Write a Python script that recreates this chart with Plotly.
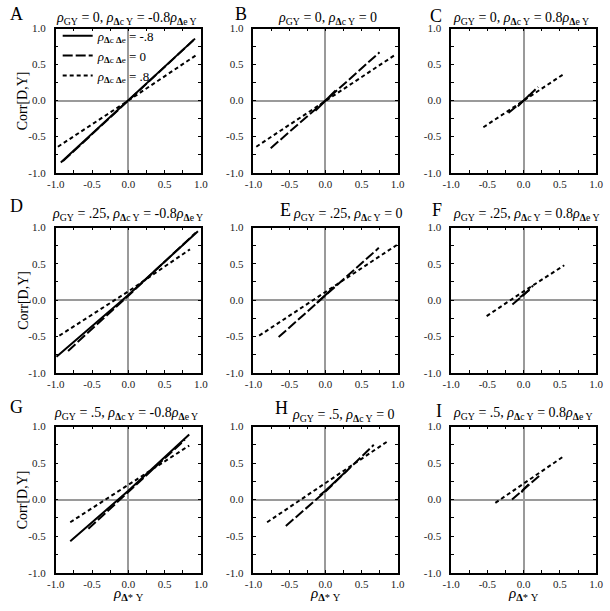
import plotly.graph_objects as go

W, H = 610, 611

# ---------------- data ----------------
letters = ["A", "B", "C", "D", "E", "F", "G", "H", "I"]
rho_gy = ["0", "0", "0", ".25", ".25", ".25", ".5", ".5", ".5"]
rho_rel = ["-0.8", "0", "0.8", "-0.8", "0", "0.8", "-0.8", "0", "0.8"]
series_rho = ["-.8", "0", ".8"]  # rho_{Δc Δe}

tick_vals = [-1.0, -0.5, 0.0, 0.5, 1.0]
tick_text = ["-1.0", "-0.5", "0.0", "0.5", "1.0"]
minor_vals = [-0.75, -0.25, 0.25, 0.75]

# x / y per panel: [solid (-.8), long dash (0), short dash (.8)]
A_x = [[-0.93, 0.0, 0.92], [-0.90, 0.0, 0.90], [-0.97, 0.0, 0.95]]
A_y = [[-0.86, 0.0, 0.86], [-0.84, 0.0, 0.84], [-0.64, 0.0, 0.64]]
B_x = [[-0.14, 0.0, 0.14], [-0.76, 0.0, 0.75], [-0.96, 0.0, 0.96]]
B_y = [[-0.14, 0.0, 0.14], [-0.66, 0.0, 0.67], [-0.64, 0.0, 0.63]]
C_x = [[-0.08, 0.0, 0.08], [-0.21, 0.0, 0.20], [-0.555, 0.0, 0.555]]
C_y = [[-0.08, 0.0, 0.08], [-0.17, 0.0, 0.19], [-0.37, 0.0, 0.37]]
D_x = [[-0.99, 0.0, 0.96], [-0.83, 0.0, 0.93], [-0.95, 0.0, 0.85]]
D_y = [[-0.78, 0.07, 0.95], [-0.70, 0.06, 0.93], [-0.49, 0.12, 0.70]]
E_x = [[-0.12, 0.0, 0.12], [-0.65, 0.0, 0.74], [-0.92, 0.0, 0.99]]
E_y = [[-0.04, 0.07, 0.18], [-0.51, 0.07, 0.72], [-0.49, 0.11, 0.76]]
F_x = [[-0.05, 0.0, 0.08], [-0.155, 0.0, 0.13], [-0.51, 0.0, 0.56]]
F_y = [[0.04, 0.08, 0.14], [-0.06, 0.07, 0.20], [-0.22, 0.12, 0.48]]
G_x = [[-0.80, 0.0, 0.84], [-0.55, 0.0, 0.78], [-0.80, 0.0, 0.84]]
G_y = [[-0.57, 0.12, 0.89], [-0.40, 0.10, 0.82], [-0.31, 0.20, 0.74]]
H_x = [[-0.08, 0.0, 0.30], [-0.55, 0.0, 0.67], [-0.81, 0.0, 0.85]]
H_y = [[0.06, 0.12, 0.40], [-0.36, 0.11, 0.75], [-0.31, 0.23, 0.79]]
I_x = [[-0.03, 0.0, 0.07], [-0.16, 0.0, 0.22], [-0.39, 0.0, 0.555]]
I_y = [[0.10, 0.14, 0.21], [0.0, 0.14, 0.33], [-0.045, 0.22, 0.595]]

panel_x = [A_x, B_x, C_x, D_x, E_x, F_x, G_x, H_x, I_x]
panel_y = [A_y, B_y, C_y, D_y, E_y, F_y, G_y, H_y, I_y]

# ---------------- layout helpers ----------------
col_px = [(48, 197), (251, 399), (454, 603)]
row_px = [(23, 170), (226, 374), (429, 578)]
title_left = [47, 275, 455, 43, 291, 455, 45, 290, 455]
title_cy = [13, 13, 13, 213, 213, 213, 416, 418, 416]
letter_xy = [(8, 8), (238, 8), (439, 10), (8, 204), (284, 208), (440, 208),
             (8, 409), (280, 410), (442, 413)]
dashes = ["solid", "10px,3px", "4px,3px"]
SERIF = "Liberation Serif"

RHO = "<i>ρ</i>"
DEL = "<b>Δ</b>"

fig = go.Figure()
for i in range(9):
    n = i + 1
    xref = "x" if n == 1 else f"x{n}"
    yref = "y" if n == 1 else f"y{n}"
    for k in range(3):
        fig.add_trace(go.Scatter(
            x=panel_x[i][k], y=panel_y[i][k], mode="lines",
            line=dict(color="black", width=2, dash=dashes[k]),
            xaxis=xref, yaxis=yref,
            name=f"{RHO}<sub>{DEL}c {DEL}e</sub> = {series_rho[k]}",
            showlegend=(i == 0),
        ))

layout = dict(
    width=W, height=H,
    margin=dict(l=0, r=0, t=0, b=0),
    paper_bgcolor="white", plot_bgcolor="white",
    font=dict(family=SERIF, color="black"),
    legend=dict(x=50 / W, y=1 - 15 / H, xanchor="left", yanchor="top",
                bgcolor="rgba(0,0,0,0)", font=dict(family=SERIF, size=13),
                tracegroupgap=0, itemwidth=30),
    annotations=[],
)

axis_common = dict(
    range=[-1, 1], tickmode="array", tickvals=tick_vals, ticktext=tick_text,
    ticks="inside", ticklen=3, tickcolor="black", tickwidth=1,
    showline=True, linecolor="black", linewidth=1.5, mirror="ticks",
    zeroline=True, zerolinecolor="#9a9a9a", zerolinewidth=1.5,
    showgrid=False, fixedrange=True,
    tickfont=dict(family=SERIF, size=11, color="#222"),
    minor=dict(tickmode="array", tickvals=minor_vals, ticks="inside",
               ticklen=3, tickcolor="black", showgrid=False),
)

for i in range(9):
    r, c = divmod(i, 3)
    n = i + 1
    xs = "" if n == 1 else str(n)
    x0, x1 = col_px[c]
    y0, y1 = row_px[r]
    layout[f"xaxis{xs}"] = dict(axis_common, domain=[x0 / W, x1 / W],
                                anchor=f"y{xs}", ticklabelstandoff=0)
    layout[f"yaxis{xs}"] = dict(axis_common, domain=[1 - y1 / H, 1 - y0 / H],
                                anchor=f"x{xs}", ticklabelstandoff=6)

    # panel title
    rel = rho_rel[i]
    if rel != "0":
        rel = f"{rel}{RHO}<sub>{DEL}e Y</sub>"
    title = f"{RHO}<sub>GY</sub> = {rho_gy[i]}, {RHO}<sub>{DEL}c Y</sub> = {rel}"
    layout["annotations"].append(dict(
        text=title, x=title_left[i] / W, y=1 - title_cy[i] / H,
        xref="paper", yref="paper",
        xanchor="left", yanchor="middle", showarrow=False, borderpad=0,
        font=dict(family=SERIF, size=14, color="black")))
    # panel letter
    lx, ly = letter_xy[i]
    layout["annotations"].append(dict(
        text=letters[i], x=lx / W, y=1 - ly / H, xref="paper", yref="paper",
        xanchor="center", yanchor="middle", showarrow=False,
        font=dict(family=SERIF, size=18, color="black")))

# y axis titles (left column)
for r in range(3):
    y0, y1 = row_px[r]
    layout["annotations"].append(dict(
        text="Corr[D,Y]", x=14 / W, y=1 - ((y0 + y1) / 2) / H,
        xref="paper", yref="paper", xanchor="center", yanchor="middle",
        textangle=-90, showarrow=False, font=dict(family=SERIF, size=14, color="black")))

# x axis titles (bottom row)
for c in range(3):
    x0, x1 = col_px[c]
    layout["annotations"].append(dict(
        text=f"{RHO}<sub>{DEL}* Y</sub>", x=((x0 + x1) / 2) / W, y=1 - 600 / H,
        xref="paper", yref="paper", xanchor="center", yanchor="middle",
        showarrow=False, font=dict(family=SERIF, size=15, color="black")))

fig.update_layout(**layout)
fig.write_html("out.html", config={"displayModeBar": False},
               post_script="document.body.style.margin='0';document.body.style.overflow='hidden';")
